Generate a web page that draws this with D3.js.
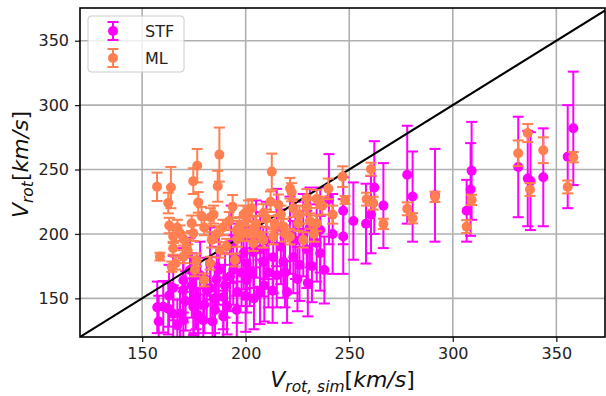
<!DOCTYPE html>
<html>
<head>
<meta charset="utf-8">
<script src="https://cdn.jsdelivr.net/npm/d3@7/dist/d3.min.js"></script>
<style>
  body { margin: 0; background: #fff; }
  svg { display: block; font-family: 'DejaVu Sans', sans-serif; }
</style>
</head>
<body>
<div id="chart"></div>
<script>
// tick labels
const xTicks = [150, 200, 250, 300, 350];
const yTicks = [150, 200, 250, 300, 350];

// STF series: simulated v_rot, recovered v_rot, error
const stfX = [358.2, 355.5, 343.7, 337.5, 336.2, 331.6, 309.1, 308.6, 306.7, 291.4,
              280.6, 278.0, 266.5, 262.1, 260.5, 258.1, 247.1, 247.1, 240.2, 236.0,
              234.3, 229.5, 227.8, 223.0, 221.4, 218.2, 213.3, 208.5, 206.9, 203.7,
              200.5, 200.5, 198.0, 195.7, 195.7, 192.4, 189.2, 189.2, 185.2, 182.8,
              181.2, 179.5, 174.7, 173.1, 169.9, 169.9, 169.9, 168.3, 165.0, 165.0,
              162.6, 160.2, 157.3, 215.0, 225.0, 232.0, 210.0, 220.0, 186.0, 176.0,
              193.0, 205.0, 215.0, 238.0, 209.0, 175.0, 185.0, 200.0,
              158.0, 163.0, 167.0, 171.0, 174.0, 177.0, 178.0, 180.0, 183.0, 184.0,
              187.0, 190.0, 191.0, 194.0, 196.0, 199.0, 202.0, 204.0, 207.0, 211.0,
              213.0, 217.0, 219.0, 224.0, 226.0, 230.0, 231.0, 236.0, 242.0, 252.0];
const stfY = [282, 260, 244, 241, 243, 252, 249, 234.5, 218, 230,
              229, 246, 222, 236, 215, 208, 218, 198, 227, 203,
              193, 188, 199, 182, 199, 178.5, 182, 178.5, 155, 186,
              177, 164, 170, 180, 141, 167, 151, 136, 141, 177,
              156.5, 133, 143.5, 172, 164, 156.5, 133, 138, 158, 138,
              142, 143.5, 143, 168, 165, 175, 195, 155, 165, 150,
              192, 196, 205, 172, 160, 148, 150, 152,
              132, 152, 129, 148, 160, 137, 168, 145, 158, 132,
              172, 160, 144, 172, 155, 185, 170, 150, 188, 170,
              156, 190, 170, 195, 176, 162, 205, 185, 200, 210];
const stfErr = [44, 40, 38, 38, 37, 39, 38, 36, 24, 36,
                35, 38, 33, 36, 30, 31, 26, 29, 35, 33,
                30, 30, 32, 28, 30, 28, 28, 27, 25, 28,
                28, 25, 26, 28, 22, 27, 25, 20, 22, 28,
                25, 20, 22, 25, 25, 25, 22, 20, 25, 22,
                20, 20, 20, 25, 25, 28, 30, 24, 25, 24,
                30, 30, 30, 26, 28, 25, 27, 28,
                20, 24, 20, 23, 25, 21, 26, 22, 24, 20,
                27, 25, 22, 27, 24, 28, 26, 24, 29, 27,
                25, 29, 27, 30, 28, 26, 31, 29, 31, 30];

// ML series
const mlX = [157.2, 163.9, 162.6, 176.6, 174.7, 187.3, 186.5, 177.1, 178.7, 184.5,
             193.7, 201.3, 163.1, 165.0, 158.6, 166.2, 171.5, 174.7, 173.9, 182.8,
             175.5, 190.8, 194.8, 195.7, 200.5, 203.7, 168.3, 165.0, 169.9, 176.3,
             179.9, 187.6, 183.6, 164.3, 212.6, 221.4, 222.2, 215.8, 229.5, 229.5,
             208.5, 200.5, 234.3, 239.9, 246.8, 248.0, 260.5, 258.4, 261.6, 266.5,
             234.3, 225.4, 218.2, 213.3, 203.7, 221.4, 227.8, 208.5, 198.9, 192.0,
             197.0, 205.0, 180.0, 186.0, 278.0, 280.6, 291.4, 306.7, 309.1, 331.6,
             336.2, 337.3, 343.7, 355.5, 358.2,
             196.0, 199.0, 203.0, 206.0, 210.0, 212.0, 214.0, 217.0, 219.0, 223.0,
             226.0, 231.0, 233.0, 237.0, 242.0, 189.0, 183.0, 170.0, 172.0, 167.0];
const mlY = [236.6, 236, 224, 253, 241, 261.6, 237, 224.5, 214, 215,
             221.2, 218, 206.5, 188.9, 182.4, 177.3, 190.2, 200.6, 208.3, 177.3,
             172.1, 190.2, 179.8, 203.1, 200.6, 192.8, 200.6, 198, 182.4, 179.8,
             164.3, 187.6, 195.4, 174.6, 248.4, 235.5, 232.4, 222.6, 227.8, 220.8,
             216.1, 212.2, 227.2, 235, 244.5, 226.4, 250.3, 227, 223.9, 207.8,
             208.3, 208.3, 205.7, 197.9, 203.1, 197.9, 195.4, 195.4, 200.6, 210,
             206, 208, 205, 200, 219.5, 212.2, 228.8, 205.7, 226.4, 262.6,
             278.3, 234.5, 265, 236.5, 259.6,
             196, 215, 220, 200, 212, 225, 208, 215, 200, 220,
             215, 210, 200, 222, 215, 205, 213, 196, 187, 205];
const mlErr = [11, 16, 8, 13, 10, 21, 12, 8, 7, 7,
               9, 8, 6, 5, 3, 5, 6, 6, 6, 5,
               5, 6, 5, 7, 6, 6, 6, 5, 5, 5,
               5, 6, 6, 4, 14, 8, 7, 8, 7, 6,
               7, 6, 7, 8, 8, 3, 5, 5, 5, 4,
               6, 6, 6, 6, 6, 6, 6, 6, 6, 7,
               7, 6, 6, 6, 5, 4, 4, 5, 4, 10,
               7, 5, 10, 5, 4,
               6, 7, 7, 6, 7, 8, 6, 7, 6, 7,
               7, 6, 6, 7, 7, 6, 7, 5, 5, 6];

const seriesNames = ['STF', 'ML'];
const seriesColors = ['#ff00ff', '#ff7f50'];

const svgWidth = 606;
const svgHeight = 396;
const margin = { top: 8, right: 1, bottom: 59, left: 80 };
const chartWidth = svgWidth - margin.left - margin.right;
const chartHeight = svgHeight - margin.top - margin.bottom;

const svg = d3.select('#chart').append('svg')
    .attr('width', svgWidth)
    .attr('height', svgHeight);

const chart = svg.append('g')
    .attr('transform', `translate(${margin.left},${margin.top})`);

const x = d3.scaleLinear().domain([120, 373.5]).range([0, chartWidth]);
const y = d3.scaleLinear().domain([120, 375.4]).range([chartHeight, 0]);

svg.append('defs').append('clipPath').attr('id', 'clip')
    .append('rect').attr('width', chartWidth).attr('height', chartHeight);

// grid
chart.append('g')
    .selectAll('line.gx').data(xTicks).join('line')
    .attr('x1', d => x(d)).attr('x2', d => x(d))
    .attr('y1', 0).attr('y2', chartHeight)
    .attr('stroke', '#b0b0b0').attr('stroke-width', 1.6);
chart.append('g')
    .selectAll('line.gy').data(yTicks).join('line')
    .attr('y1', d => y(d)).attr('y2', d => y(d))
    .attr('x1', 0).attr('x2', chartWidth)
    .attr('stroke', '#b0b0b0').attr('stroke-width', 1.6);

const plot = chart.append('g').attr('clip-path', 'url(#clip)');

function drawSeries(xs, ys, errs, color) {
    const data = xs.map((d, i) => ({ x: d, y: ys[i], e: errs[i] }));
    const g = plot.append('g');
    const capW = 5.5;
    g.selectAll('line.bar').data(data).join('line')
        .attr('x1', d => x(d.x)).attr('x2', d => x(d.x))
        .attr('y1', d => y(d.y - d.e)).attr('y2', d => y(d.y + d.e))
        .attr('stroke', color).attr('stroke-width', 2);
    g.selectAll('line.caplo').data(data).join('line')
        .attr('x1', d => x(d.x) - capW).attr('x2', d => x(d.x) + capW)
        .attr('y1', d => y(d.y - d.e)).attr('y2', d => y(d.y - d.e))
        .attr('stroke', color).attr('stroke-width', 2);
    g.selectAll('line.caphi').data(data).join('line')
        .attr('x1', d => x(d.x) - capW).attr('x2', d => x(d.x) + capW)
        .attr('y1', d => y(d.y + d.e)).attr('y2', d => y(d.y + d.e))
        .attr('stroke', color).attr('stroke-width', 2);
    g.selectAll('circle').data(data).join('circle')
        .attr('cx', d => x(d.x)).attr('cy', d => y(d.y))
        .attr('r', 5).attr('fill', color);
}

drawSeries(stfX, stfY, stfErr, seriesColors[0]);

// one-to-one line
plot.append('line')
    .attr('x1', x(120)).attr('y1', y(120))
    .attr('x2', x(380)).attr('y2', y(380))
    .attr('stroke', '#000').attr('stroke-width', 2);

drawSeries(mlX, mlY, mlErr, seriesColors[1]);

// axes
const xAxis = chart.append('g')
    .attr('transform', `translate(0,${chartHeight})`)
    .call(d3.axisBottom(x).tickValues(xTicks).tickSize(5).tickPadding(6));
const yAxis = chart.append('g')
    .call(d3.axisLeft(y).tickValues(yTicks).tickSize(5).tickPadding(6));
[xAxis, yAxis].forEach(a => {
    a.select('.domain').remove();
    a.selectAll('text').attr('font-size', 16).attr('fill', '#222')
        .attr('font-family', "'DejaVu Sans', sans-serif");
    a.selectAll('line').attr('stroke', '#222').attr('stroke-width', 1.3);
});

// frame
chart.append('rect')
    .attr('width', chartWidth).attr('height', chartHeight)
    .attr('fill', 'none').attr('stroke', '#000').attr('stroke-width', 1.6);

// axis labels (math style)
function mathLabel(sel, sub) {
    sel.append('tspan').attr('font-style', 'italic').text('V');
    sel.append('tspan').attr('font-style', 'italic').attr('font-size', 15.5)
        .attr('dy', 5).text(sub);
    sel.append('tspan').attr('dy', -5).text('[');
    sel.append('tspan').attr('font-style', 'italic').text('km/s');
    sel.append('tspan').text(']');
}
const xl = svg.append('text')
    .attr('x', margin.left + chartWidth / 2).attr('y', 387)
    .attr('text-anchor', 'middle').attr('font-size', 22).attr('fill', '#111');
mathLabel(xl, 'rot, sim');
const yl = svg.append('text')
    .attr('transform', `translate(28,${margin.top + chartHeight / 2 - 8}) rotate(-90)`)
    .attr('text-anchor', 'middle').attr('font-size', 22).attr('fill', '#111');
mathLabel(yl, 'rot');

// legend
const legend = chart.append('g').attr('transform', 'translate(8,8)');
legend.append('rect')
    .attr('width', 96).attr('height', 56).attr('rx', 3)
    .attr('fill', '#fff').attr('fill-opacity', 0.8)
    .attr('stroke', '#cccccc').attr('stroke-width', 1);
seriesNames.forEach((name, i) => {
    const cy = 15 + i * 27;
    const item = legend.append('g').attr('transform', `translate(25,${cy})`);
    item.append('line').attr('y1', -9).attr('y2', 9)
        .attr('stroke', seriesColors[i]).attr('stroke-width', 2);
    [-9, 9].forEach(v => item.append('line')
        .attr('x1', -5.5).attr('x2', 5.5).attr('y1', v).attr('y2', v)
        .attr('stroke', seriesColors[i]).attr('stroke-width', 2));
    item.append('circle').attr('r', 5).attr('fill', seriesColors[i]);
    legend.append('text')
        .attr('x', 57).attr('y', cy + 6)
        .attr('font-size', 16).attr('fill', '#222')
        .text(name);
});
</script>
</body>
</html>
